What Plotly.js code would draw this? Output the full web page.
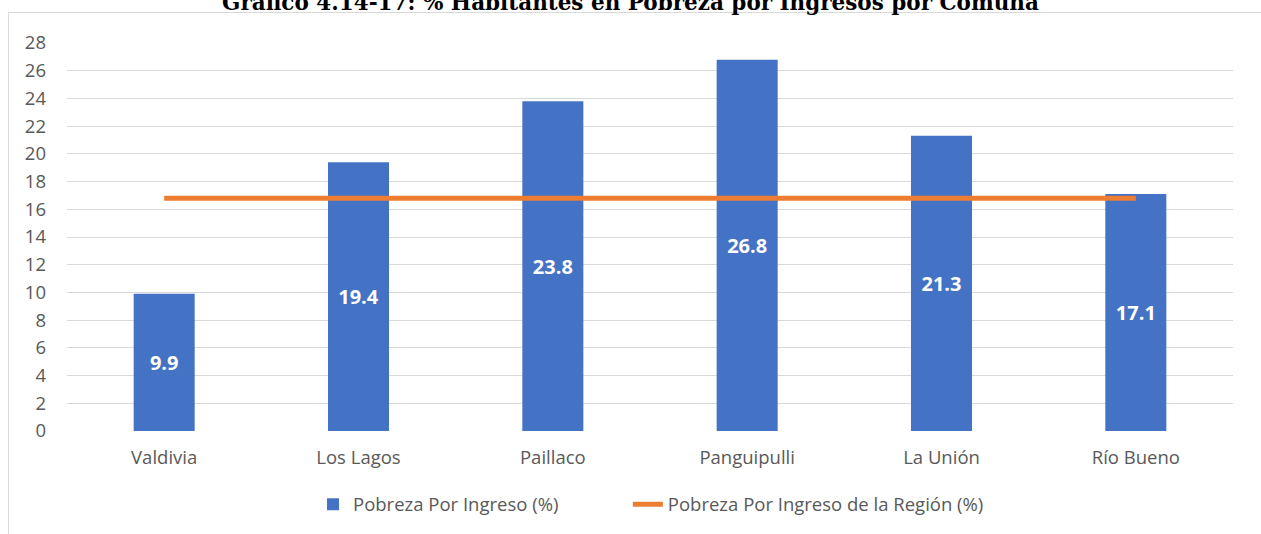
<!DOCTYPE html>
<html>
<head>
<meta charset="utf-8">
<script src="https://cdn.plot.ly/plotly-3.0.1.min.js"></script>
<style>
html,body{margin:0;padding:0;background:#fff;}
#wrap{position:relative;width:1261px;height:534px;overflow:hidden;}
#frame{position:absolute;left:8px;top:12px;width:1300px;height:600px;border:1px solid #d9d9d9;box-sizing:border-box;pointer-events:none;}
#chart{position:absolute;left:0;top:0;width:1261px;height:534px;}
</style>
</head>
<body>
<div id="wrap">
<div id="frame"></div>
<div id="chart"></div>
</div>
<script>
const comunas = ["Valdivia", "Los Lagos", "Paillaco", "Panguipulli", "La Unión", "Río Bueno"];
const pobreza = [9.9, 19.4, 23.8, 26.8, 21.3, 17.1];
const pobrezaRegion = [16.8, 16.8, 16.8, 16.8, 16.8, 16.8];
const yTicks = [0, 2, 4, 6, 8, 10, 12, 14, 16, 18, 20, 22, 24, 26, 28];

const font = "'Open Sans', Lato, sans-serif";

const traces = [
  {
    type: "bar",
    name: "Pobreza Por Ingreso (%)",
    x: comunas,
    y: pobreza,
    marker: {color: "#4472c4"},
    text: pobreza.map(v => v.toFixed(1)),
    textposition: "inside",
    insidetextanchor: "middle",
    textangle: 0,
    textfont: {family: font, size: 20, color: "#ffffff", weight: "bold"},
    legend: "legend",
    hoverinfo: "x+y"
  },
  {
    type: "scatter",
    mode: "lines",
    name: "Pobreza Por Ingreso de la Región (%)",
    x: comunas,
    y: pobrezaRegion,
    line: {color: "#ed7d31", width: 5},
    legend: "legend2",
    hoverinfo: "x+y"
  }
];

const legendCommon = {
  orientation: "h",
  xanchor: "left",
  y: -0.138,
  yanchor: "top",
  font: {family: font, size: 18.5, color: "#595959"}
};

const layout = {
  width: 1261,
  height: 534,
  margin: {l: 67, r: 28, t: 43, b: 102},
  paper_bgcolor: "rgba(0,0,0,0)",
  plot_bgcolor: "rgba(0,0,0,0)",
  font: {family: font, size: 18.5, color: "#595959"},
  title: {
    text: "Gráfico 4.14-17: % Habitantes en Pobreza por Ingresos por Comuna",
    font: {family: "'DejaVu Serif', serif", size: 21.5, color: "#000000", weight: "bold"},
    x: 0.5,
    xanchor: "center",
    y: 0.996,
    yanchor: "middle",
    yref: "container"
  },
  bargap: 0.686,
  xaxis: {
    type: "category",
    showgrid: false,
    zeroline: false,
    showline: false,
    ticks: "",
    ticklabelstandoff: 13,
    tickfont: {family: font, size: 18.5, color: "#595959"}
  },
  yaxis: {
    range: [0, 28],
    tickvals: yTicks,
    ticktext: yTicks.map(String),
    showgrid: true,
    gridcolor: "#d9d9d9",
    gridwidth: 1,
    zeroline: false,
    showline: false,
    ticks: "",
    ticklabelstandoff: 20,
    tickfont: {family: font, size: 18.5, color: "#595959"}
  },
  showlegend: true,
  legend: Object.assign({}, legendCommon, {x: 0.211}),
  legend2: Object.assign({}, legendCommon, {x: 0.481})
};

Plotly.newPlot("chart", traces, layout, {displayModeBar: false, staticPlot: true});
</script>
</body>
</html>
